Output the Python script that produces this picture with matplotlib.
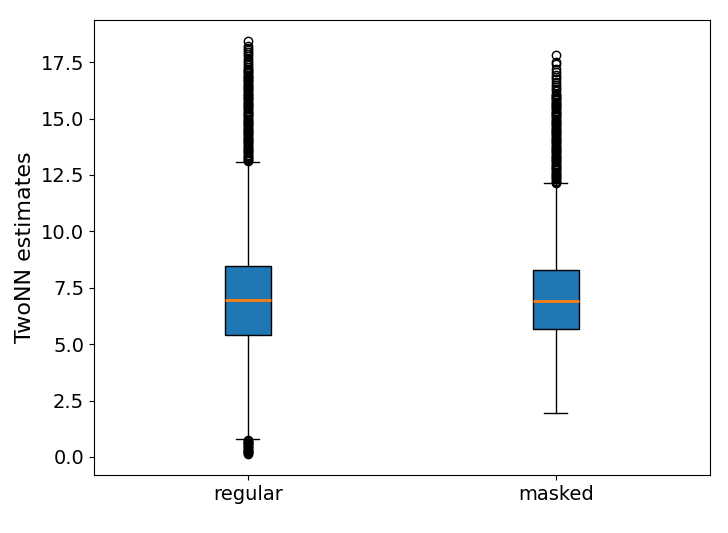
import matplotlib
matplotlib.use("Agg")
import matplotlib.pyplot as plt

labels = ["regular", "masked"]
medians = [6.94, 6.90]
q1s = [5.40, 5.66]
q3s = [8.45, 8.27]
whis_lo = [0.78, 1.94]
whis_hi = [13.07, 12.14]

# outliers (dense bands written out point by point)
fliers_regular = [
    0.12, 0.16, 0.20, 0.24, 0.28, 0.32, 0.36, 0.40, 0.44, 0.48, 0.52, 0.56, 0.60, 0.64, 0.68, 0.72, 0.76,
    13.10, 13.15, 13.20, 13.25, 13.30, 13.35, 13.40, 13.45, 13.50, 13.55,
    13.60, 13.65, 13.70, 13.75, 13.80, 13.85, 13.90, 13.95, 14.00, 14.05,
    14.10, 14.15, 14.20, 14.25, 14.30, 14.35, 14.40, 14.45, 14.50, 14.55,
    14.60, 14.65, 14.70, 14.75, 14.80, 14.85, 14.90, 14.95, 15.00, 15.05,
    15.10, 15.15, 15.20, 15.25, 15.30, 15.35, 15.40, 15.45, 15.50, 15.55,
    15.60, 15.65, 15.70, 15.75, 15.80, 15.85, 15.90, 15.95, 16.00, 16.05,
    16.10, 16.15, 16.20, 16.25, 16.30, 16.35, 16.40, 16.45, 16.50, 16.55,
    16.60, 16.65, 16.70, 16.75, 16.80, 16.85, 16.90, 16.95, 17.00, 17.05,
    17.10, 17.15, 17.20, 17.28, 17.36, 17.45, 17.55, 17.65, 17.75, 17.85,
    17.95, 18.05, 18.12, 18.20, 18.45]
fliers_masked = [
    12.15, 12.20, 12.25, 12.30, 12.35, 12.40, 12.45, 12.50, 12.55, 12.60,
    12.65, 12.70, 12.75, 12.80, 12.85, 12.90, 12.95, 13.00, 13.05, 13.10,
    13.15, 13.20, 13.25, 13.30, 13.35, 13.40, 13.45, 13.50, 13.55, 13.60,
    13.65, 13.70, 13.75, 13.80, 13.85, 13.90, 13.95, 14.00, 14.05, 14.10,
    14.15, 14.20, 14.25, 14.30, 14.35, 14.40, 14.45, 14.50, 14.55, 14.60,
    14.65, 14.70, 14.75, 14.80, 14.85, 14.90, 14.95, 15.00, 15.05, 15.10,
    15.15, 15.20, 15.25, 15.30, 15.35, 15.40, 15.45, 15.50, 15.55, 15.60,
    15.65, 15.70, 15.75, 15.80, 15.85, 15.90, 15.95, 16.00, 16.05, 16.10,
    16.20, 16.30, 16.40, 16.50, 16.60, 16.75, 16.85, 16.95, 17.05, 17.20,
    17.40, 17.50, 17.80]
fliers = [fliers_regular, fliers_masked]

stats = []
for i in range(2):
    stats.append({"label": labels[i], "med": medians[i], "q1": q1s[i], "q3": q3s[i],
                  "whislo": whis_lo[i], "whishi": whis_hi[i], "fliers": fliers[i]})

fig = plt.figure(figsize=(7.28, 5.33), dpi=100)
ax = fig.add_axes([0.129, 0.109, 0.846, 0.8535])
ax.bxp(stats, patch_artist=True, widths=0.15,
       medianprops={"color": "C1", "linewidth": 2})
ax.tick_params(labelsize=14)
ax.set_ylabel("TwoNN estimates", fontsize=16)
fig.savefig("out.png", dpi=100)
